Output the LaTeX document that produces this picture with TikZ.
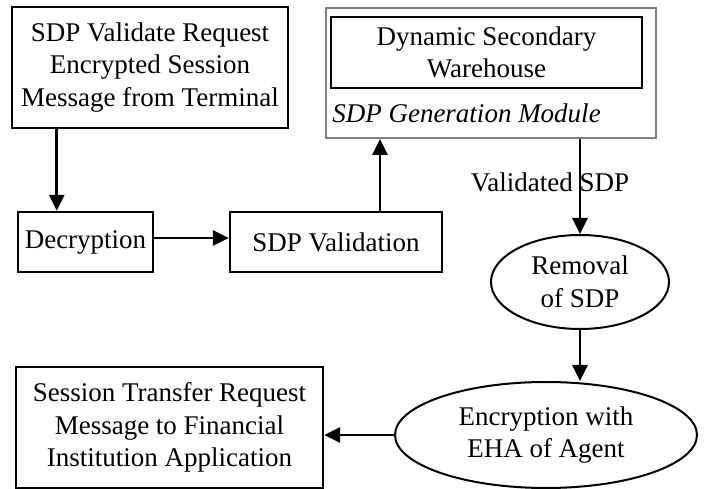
\documentclass[tikz,border=0pt]{standalone}
\usepackage{fontspec}
\setmainfont{Liberation Serif}
\usetikzlibrary{shapes.geometric,arrows.meta}
\begin{document}
\begin{tikzpicture}[x=1pt,y=-1pt,font=\fontsize{27}{32.5}\selectfont,
  box/.style={draw=black,line width=2.4pt,align=center,inner sep=0pt},
  oval/.style={ellipse,draw=black,line width=2pt,align=center,inner sep=0pt},
  arr/.style={line width=2.8pt,-{Triangle[length=16pt,width=15pt]}}]
\useasboundingbox (0,0) rectangle (705,489);
\node[box,minimum width=276pt,minimum height=121pt] (req) at (150,67.5) {SDP Validate Request\\Encrypted Session\\Message from Terminal};
\node[draw=gray,line width=2pt,minimum width=330pt,minimum height=130pt] (gen) at (491,73) {};
\node[box,minimum width=311pt,minimum height=71pt] (ware) at (486.5,52.5) {Dynamic Secondary\\Warehouse};
\node (mod) at (466.5,113) {\itshape SDP Generation Module};
\node[box,minimum width=135pt,minimum height=60pt] (dec) at (85.5,242) {Decryption};
\node[box,minimum width=212pt,minimum height=60pt] (val) at (336,242) {SDP Validation};
\node[oval,minimum width=178pt,minimum height=94pt] (rem) at (580,282) {Removal\\of SDP};
\node[oval,minimum width=302pt,minimum height=106pt] (enc) at (546,435) {Encryption with\\EHA of Agent};
\node[box,minimum width=307pt,minimum height=121pt] (sess) at (169.5,427.5) {Session Transfer Request\\Message to Financial\\Institution Application};
\coordinate (vtop) at ([xshift=44pt]val.north);
\draw[arr] ([xshift=46pt]req.south west) -- ([xshift=40pt]dec.north west);
\draw[arr] ([yshift=4pt]dec.east) -- ([yshift=4pt]val.west);
\draw[arr] (vtop) -- (vtop |- gen.south);
\draw[arr] (rem.north |- gen.south) -- node[pos=0.46,xshift=-30pt] (lab) {Validated SDP} (rem.north);
\draw[arr] (rem.south) -- (rem.south |- enc.north);
\draw[arr] (enc.west) -- (enc.west -| sess.east);
\end{tikzpicture}
\end{document}
